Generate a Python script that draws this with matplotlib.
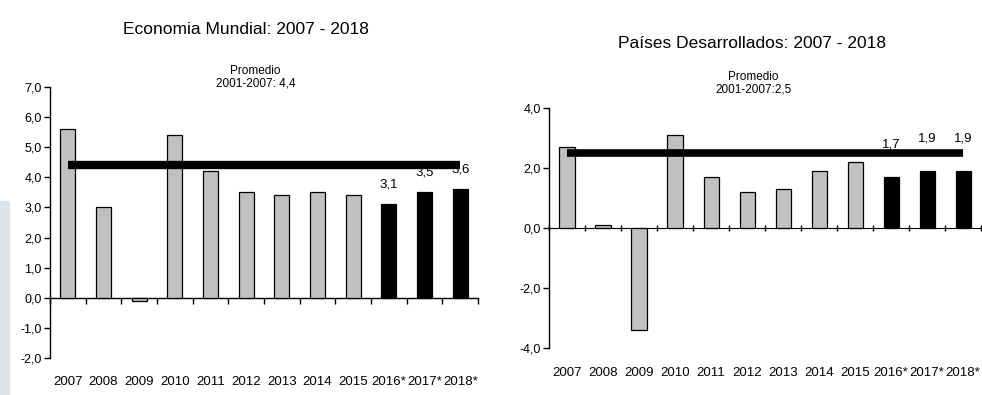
import numpy as np
import matplotlib
matplotlib.use("Agg")
import matplotlib.pyplot as plt
from matplotlib.ticker import FuncFormatter
from matplotlib.patches import Rectangle

plt.rcParams['font.family'] = ['Liberation Sans Narrow', 'Liberation Sans', 'DejaVu Sans']

years = ['2007', '2008', '2009', '2010', '2011', '2012', '2013', '2014',
         '2015', '2016*', '2017*', '2018*']
# the last three years are projections
n_proj = 3

mundial = [5.6, 3.0, -0.1, 5.4, 4.2, 3.5, 3.4, 3.5, 3.4, 3.1, 3.5, 3.6]
mundial_prom = 4.4

desarrollados = [2.7, 0.1, -3.4, 3.1, 1.7, 1.2, 1.3, 1.9, 2.2, 1.7, 1.9, 1.9]
desarrollados_prom = 2.5


def coma(v, pos=None):
    return ('%.1f' % v).replace('.', ',')


def grafico(ax, valores, promedio, ylim, yticks, tickdir, lw_prom, off, xpad):
    x = np.arange(len(years))
    colores = ['#c0c0c0'] * (len(years) - n_proj) + ['black'] * n_proj
    ax.bar(x, valores, width=0.42, color=colores, edgecolor='black', linewidth=0.9, zorder=2)

    # average line across all years
    ax.plot([x[0], x[-1]], [promedio, promedio], color='black', lw=lw_prom, zorder=3,
            solid_capstyle='butt')

    # value labels for projections
    for i in range(len(years) - n_proj, len(years)):
        ax.annotate(coma(valores[i]), (x[i], valores[i]), xytext=(0, off),
                    textcoords='offset points', ha='center', va='bottom', fontsize=9.5,
                    zorder=4)

    ax.set_xlim(-0.5, len(years) - 0.5)
    ax.set_ylim(*ylim)
    ax.set_yticks(yticks)
    ax.yaxis.set_major_formatter(FuncFormatter(coma))
    ax.tick_params(axis='y', direction='out', length=4, width=1, labelsize=9, pad=2)

    for s in ['top', 'right', 'bottom']:
        ax.spines[s].set_visible(False)
    ax.spines['left'].set_linewidth(1)

    ax.set_xticks(x)
    ax.set_xticklabels(years, fontsize=9.5)
    ax.tick_params(axis='x', length=0, pad=xpad)

    # zero line with category boundary ticks
    cero = (0 - ylim[0]) / (ylim[1] - ylim[0])
    sec = ax.secondary_xaxis(cero)
    sec.set_xticks(np.arange(len(years) + 1) - 0.5)
    sec.set_xticklabels([])
    sec.tick_params(direction=tickdir, length=4, width=1)
    sec.spines['bottom'].set_linewidth(1)


fig = plt.figure(figsize=(9.82, 3.95), dpi=100)

# faint band along the left edge
fig.patches.append(Rectangle((0, 0), 0.009, 0.49, transform=fig.transFigure,
                             color='#dde3ea', zorder=0))

ax1 = fig.add_axes([0.0509, 0.0937, 0.4359, 0.686])
grafico(ax1, mundial, mundial_prom, (-2, 7), np.arange(-2, 8, 1), 'out', 6, 10, 13)

ax2 = fig.add_axes([0.5591, 0.119, 0.44, 0.6076])
grafico(ax2, desarrollados, desarrollados_prom, (-4, 4), np.arange(-4, 5, 2), 'inout', 5.5, 19, 14)

fig.text(0.25, 0.925, 'Economia Mundial: 2007 - 2018', ha='center', va='center', fontsize=12.5)
fig.text(0.26, 0.805, 'Promedio\n2001-2007: 4,4', ha='center', va='center', fontsize=8.5,
         linespacing=1.1)

fig.text(0.766, 0.89, 'Países Desarrollados: 2007 - 2018', ha='center', va='center', fontsize=12.5)
fig.text(0.767, 0.79, 'Promedio\n2001-2007:2,5', ha='center', va='center', fontsize=8.5,
         linespacing=1.1)

fig.savefig('out.png', dpi=100)
